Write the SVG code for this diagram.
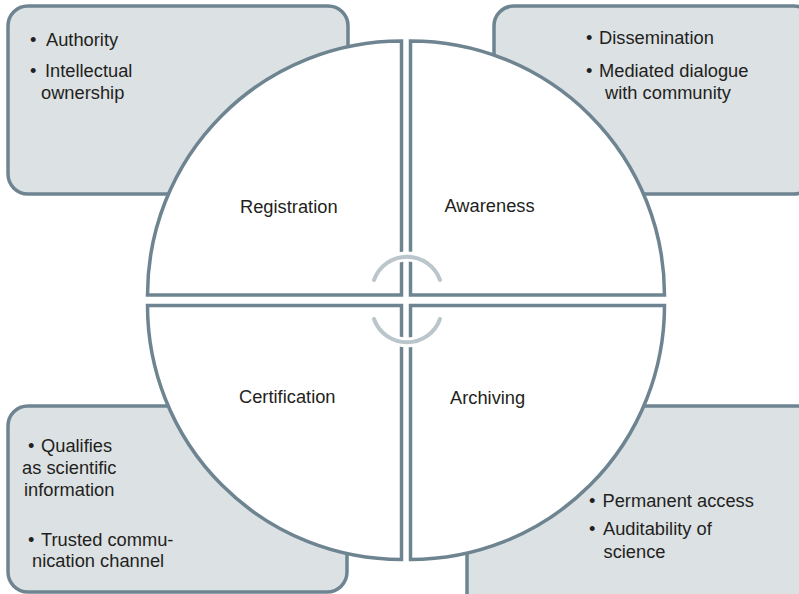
<svg xmlns="http://www.w3.org/2000/svg" width="799" height="594" viewBox="0 0 799 594">
<style>
.box{fill:#dce1e4;stroke:#6e8591;stroke-width:3.5}
.quad{fill:#ffffff;stroke:#6e8591;stroke-width:3.5;stroke-linejoin:miter}
.t{font-family:"Liberation Sans",Arial,Helvetica,sans-serif;font-size:18.3px;fill:#231f20}
.halo{fill:none;stroke:#ffffff;stroke-width:10;stroke-linecap:butt}
.arc{fill:none;stroke:#bac6cb;stroke-width:4;stroke-linecap:round}
</style>
<rect width="799" height="594" fill="#ffffff"/>
<g id="box-registration">
<rect class="box" x="8" y="6" width="340" height="188" rx="20" ry="20"/>
<text class="t" y="46"><tspan x="30">•</tspan><tspan x="46">Authority</tspan></text>
<text class="t" y="77"><tspan x="30">•</tspan><tspan x="45">Intellectual</tspan></text>
<text class="t" x="41" y="99">ownership</text>
</g>
<g id="box-awareness">
<rect class="box" x="494" y="6" width="320" height="188" rx="20" ry="20"/>
<text class="t" y="44"><tspan x="586">•</tspan><tspan x="599">Dissemination</tspan></text>
<text class="t" y="77"><tspan x="586">•</tspan><tspan x="599">Mediated dialogue</tspan></text>
<text class="t" x="605" y="99">with community</text>
</g>
<g id="box-certification">
<rect class="box" x="8" y="406" width="339" height="186" rx="20" ry="20"/>
<text class="t" y="452"><tspan x="28">•</tspan><tspan x="41">Qualifies</tspan></text>
<text class="t" x="22" y="474">as scientific</text>
<text class="t" x="24" y="496">information</text>
<text class="t" y="546"><tspan x="28">•</tspan><tspan x="41">Trusted commu-</tspan></text>
<text class="t" x="32" y="567">nication channel</text>
</g>
<g id="box-archiving">
<rect class="box" x="467" y="406" width="350" height="210" rx="20" ry="20"/>
<text class="t" y="507"><tspan x="589">•</tspan><tspan x="602.5">Permanent access</tspan></text>
<text class="t" y="535"><tspan x="589">•</tspan><tspan x="603">Auditability of</tspan></text>
<text class="t" x="603.5" y="558">science</text>
</g>
<g id="registration">
<path class="quad" d="M401.5 295 H147.5 A254 254 0 0 1 401.5 41 Z"/>
<text class="t" x="240" y="213">Registration</text>
</g>
<g id="awareness">
<path class="quad" d="M410.5 295 V41 A254 254 0 0 1 664.5 295 Z"/>
<text class="t" x="444.5" y="212">Awareness</text>
</g>
<g id="certification">
<path class="quad" d="M401.5 305.5 V559.5 A254 254 0 0 1 147.5 305.5 Z"/>
<text class="t" x="239" y="403">Certification</text>
</g>
<g id="archiving">
<path class="quad" d="M410.5 305.5 H664.5 A254 254 0 0 1 410.5 559.5 Z"/>
<text class="t" x="450" y="404">Archiving</text>
</g>
<g id="connectors">
<path class="halo" d="M390 261 A35 35 0 0 1 424 261"/>
<path class="halo" d="M424 338 A35 35 0 0 1 390 338"/>
<path class="arc" d="M374 280 A35 35 0 0 1 440 280"/>
<path class="arc" d="M440 319 A35 35 0 0 1 374 319"/>
</g>
</svg>
